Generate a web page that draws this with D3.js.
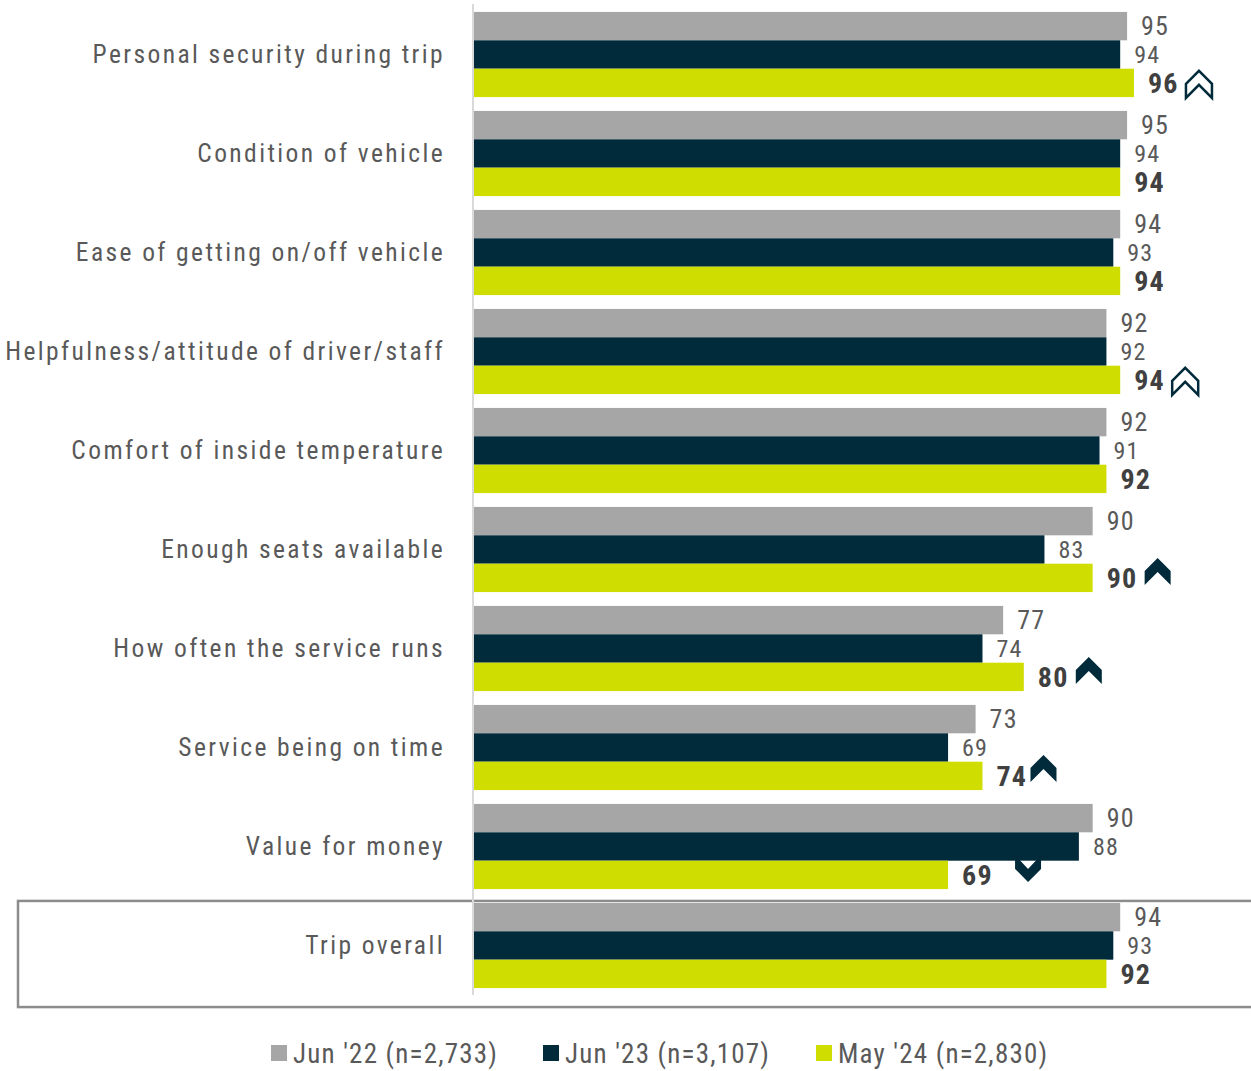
<!DOCTYPE html>
<html>
<head>
<meta charset="utf-8">
<script src="https://cdn.jsdelivr.net/npm/d3@7"></script>
<style>
  body { margin: 0; background: #fff; }
  svg text { font-family: "Liberation Sans Narrow", "Arial Narrow", "Roboto Condensed", sans-serif; }
</style>
</head>
<body>
<svg id="chart" width="1251" height="1071"></svg>
<script>
const categories = ['Personal security during trip', 'Condition of vehicle', 'Ease of getting on/off vehicle',
    'Helpfulness/attitude of driver/staff', 'Comfort of inside temperature', 'Enough seats available',
    'How often the service runs', 'Service being on time', 'Value for money', 'Trip overall']
const seriesNames = ["Jun '22 (n=2,733)", "Jun '23 (n=3,107)", "May '24 (n=2,830)"]
const jun22 = [95, 95, 94, 92, 92, 90, 77, 73, 90, 94]
const jun23 = [94, 94, 93, 92, 91, 83, 74, 69, 88, 93]
const may24 = [96, 94, 94, 94, 92, 90, 80, 74, 69, 92]
// significance markers on the latest wave
const changes = ['up-open', '', '', 'up-open', '', 'up', 'up', 'up', 'down', '']

const colors = ['#a6a6a6', '#012b3b', '#cfdd00']

let svg = d3.select('#chart')

let x = d3.scaleLinear().domain([0, 100]).range([473, 1161.5])
let y = d3.scaleBand().domain(categories).range([5, 995]).paddingInner(0.14).paddingOuter(0.07)
let ySub = d3.scaleBand().domain([0, 1, 2]).range([0, y.bandwidth()])

// box round the overall row
let last = categories[categories.length - 1]
svg.append('rect')
    .attr('x', 18)
    .attr('y', y(last) - 2)
    .attr('width', 1260)
    .attr('height', y.bandwidth() + 21)
    .attr('fill', 'none')
    .attr('stroke', '#8c8c8c')
    .attr('stroke-width', 2.5)

// vertical axis line
svg.append('line')
    .attr('x1', x(0)).attr('x2', x(0))
    .attr('y1', 4).attr('y2', 995)
    .attr('stroke', '#d9d9d9')
    .attr('stroke-width', 2)

// category labels
svg.selectAll('.cat')
    .data(categories)
    .enter().append('text')
    .attr('class', 'cat')
    .attr('x', 445)
    .attr('y', d => y(d) + y.bandwidth() / 2)
    .attr('dy', '0.35em')
    .attr('text-anchor', 'end')
    .attr('fill', '#595959')
    .style('font-size', '25.5px')
    .style('letter-spacing', '2.4px')
    .text(d => d)

let series = [jun22, jun23, may24]
series.forEach(function(vals, s) {
    let rows = categories.map((c, i) => ({cat: c, v: vals[i], i: i}))
    svg.selectAll('.bar' + s)
        .data(rows)
        .enter().append('rect')
        .attr('x', x(0) + 1)
        .attr('y', d => y(d.cat) + ySub(s))
        .attr('width', d => x(d.v) - x(0) - 1)
        .attr('height', ySub.bandwidth())
        .attr('fill', colors[s])

    svg.selectAll('.val' + s)
        .data(rows)
        .enter().append('text')
        .attr('x', d => x(d.v) + 14)
        .attr('y', d => y(d.cat) + ySub(s) + ySub.bandwidth() / 2)
        .attr('dy', '0.36em')
        .attr('fill', s == 2 ? '#404040' : '#595959')
        .style('font-size', s == 2 ? '28px' : (s == 0 ? '26px' : '24px'))
        .style('letter-spacing', '1.2px')
        .style('font-weight', s == 2 ? 'bold' : 'normal')
        .text(d => d.v)
})

// chevrons
function chevron(dir) {
    let w = 26, h = 27
    if (dir == 'down') return `M0,0 L${w/2},${h-13} L${w},0 L${w},${h-13} L${w/2},${h} L0,${h-13} Z`
    return `M0,${h-14} L${w/2},0 L${w},${h-14} L${w},${h} L${w/2},${14} L0,${h} Z`
}
let marks = categories.map((c, i) => ({cat: c, v: may24[i], t: changes[i]})).filter(d => d.t != '')
svg.selectAll('.chev')
    .data(marks)
    .enter().append('path')
    .attr('d', d => chevron(d.t))
    .attr('transform', d => {
        let cy = y(d.cat) + ySub(2) + ySub.bandwidth() / 2
        let dx = d.t == 'down' ? 67 : 52
        let dy = d.t == 'up-open' ? -12 : -20
        if (d.t == 'up' && d.v < 80) dy = -21
        if (d.t == 'up' && d.v < 80) dx = 48
        return `translate(${x(d.v) + dx},${cy + dy})`
    })
    .attr('fill', d => d.t == 'up-open' ? 'none' : '#012b3b')
    .attr('stroke', '#012b3b')
    .attr('stroke-width', d => d.t == 'up-open' ? 2.5 : 0)
    .attr('stroke-linejoin', 'miter')

// legend
let legX = [271, 543, 816]
let legend = svg.selectAll('.leg')
    .data(seriesNames)
    .enter().append('g')
    .attr('transform', (d, i) => `translate(${legX[i]}, 1053)`)
legend.append('rect')
    .attr('x', 0).attr('y', -8)
    .attr('width', 16).attr('height', 16)
    .attr('fill', (d, i) => colors[i])
legend.append('text')
    .attr('x', 22)
    .attr('dy', '0.36em')
    .attr('fill', '#595959')
    .style('font-size', '27px')
    .style('letter-spacing', '1.2px')
    .text(d => d)
</script>
</body>
</html>
